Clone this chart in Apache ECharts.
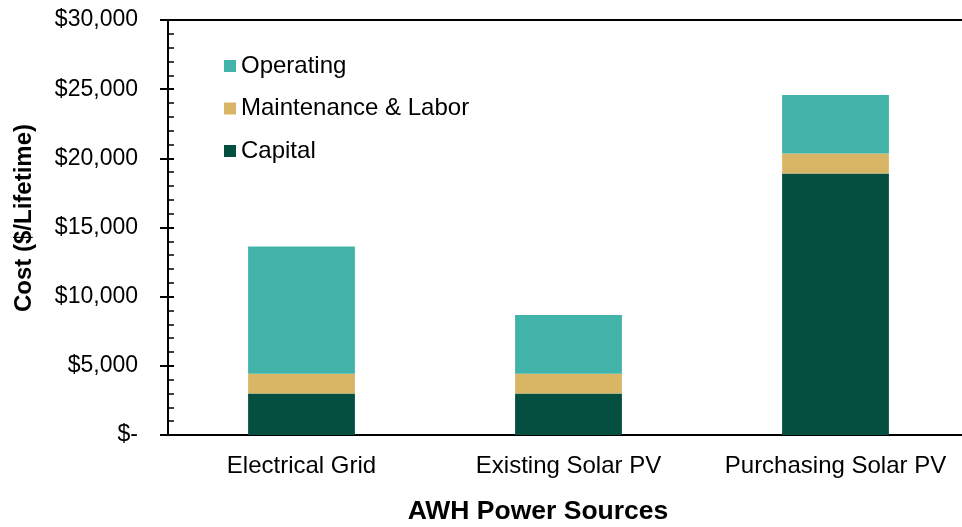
<!DOCTYPE html>
<html>
<head>
<meta charset="utf-8">
<script src="https://cdn.jsdelivr.net/npm/echarts@6/dist/echarts.min.js"></script>
<style>
  html, body { margin: 0; padding: 0; background: #fff; overflow: hidden; }
  /* the plot area runs a few pixels past the right edge of the window */
  #chart { width: 970px; height: 527px; }
</style>
</head>
<body>
<div id="chart"></div>
<script>
// Lifetime cost breakdown per power source
const categories = ['Electrical Grid', 'Existing Solar PV', 'Purchasing Solar PV'];
const capital = [3000, 3000, 18900];
const maintenance = [1420, 1420, 1450];
const operating = [9200, 4260, 4230];
const yTicks = [0, 5000, 10000, 15000, 20000, 25000, 30000];

const FONT = '"Liberation Sans", Arial, sans-serif';
const COLORS = { operating: '#42B3A9', maintenance: '#D9B666', capital: '#044F40' };

function money(v) {
  return v === 0 ? '$-' : '$' + v.toLocaleString('en-US');
}

const chart = echarts.init(document.getElementById('chart'), null, { renderer: 'canvas' });

const yMin = yTicks[0];
const yMax = yTicks[yTicks.length - 1];
const yStep = yTicks[1] - yTicks[0];

chart.setOption({
  animation: false,
  backgroundColor: '#fff',
  textStyle: { fontFamily: FONT },
  grid: { left: 168, top: 20, right: 1, bottom: 92, containLabel: false },
  legend: {
    orient: 'vertical',
    left: 224,
    top: 54,
    padding: 0,
    itemWidth: 12,
    itemHeight: 12,
    itemGap: 18.5,
    icon: 'rect',
    data: ['Operating', 'Maintenance & Labor', 'Capital'],
    textStyle: { fontFamily: FONT, fontSize: 24, color: '#000', lineHeight: 24 }
  },
  xAxis: [
    {
      type: 'category',
      data: categories,
      position: 'bottom',
      axisLine: { show: true, onZero: false, lineStyle: { color: '#000', width: 2 } },
      axisTick: { show: false },
      axisLabel: { color: '#000', fontSize: 24, fontFamily: FONT, margin: 19, interval: 0 }
    },
    {
      type: 'category',
      data: categories,
      position: 'top',
      axisLine: { show: true, onZero: false, lineStyle: { color: '#000', width: 2 } },
      axisTick: { show: false },
      axisLabel: { show: false }
    }
  ],
  yAxis: [
    {
      type: 'value',
      min: yMin,
      max: yMax,
      interval: yStep,
      position: 'left',
      axisLine: { show: true, lineStyle: { color: '#000', width: 2 } },
      axisTick: { show: true, inside: false, length: 8, lineStyle: { color: '#000', width: 2 } },
      splitLine: { show: false },
      axisLabel: { color: '#000', fontSize: 23, fontFamily: FONT, margin: 30, formatter: money }
    },
    {
      type: 'value',
      min: yMin,
      max: yMax,
      interval: yStep,
      position: 'left',
      axisLine: { show: true, lineStyle: { color: '#000', width: 2 } },
      axisTick: { show: true, inside: true, length: 6, lineStyle: { color: '#000', width: 2 } },
      minorTick: { show: true, splitNumber: 5, length: 6, lineStyle: { color: '#000', width: 1.5 } },
      splitLine: { show: false },
      axisLabel: { show: false }
    }
  ],
  series: [
    {
      name: 'Capital', type: 'bar', stack: 'cost', barWidth: '40%',
      itemStyle: { color: COLORS.capital }, data: capital
    },
    {
      name: 'Maintenance & Labor', type: 'bar', stack: 'cost', barWidth: '40%',
      itemStyle: { color: COLORS.maintenance }, data: maintenance
    },
    {
      name: 'Operating', type: 'bar', stack: 'cost', barWidth: '40%',
      itemStyle: { color: COLORS.operating }, data: operating
    }
  ],
  graphic: [
    {
      type: 'text',
      x: 24, y: 218,
      rotation: Math.PI / 2,
      style: {
        text: 'Cost ($/Lifetime)',
        font: 'bold 24px ' + FONT,
        fill: '#000',
        align: 'center',
        verticalAlign: 'middle'
      }
    },
    {
      type: 'text',
      x: 538, y: 512,
      style: {
        text: 'AWH Power Sources',
        font: 'bold 26.5px ' + FONT,
        fill: '#000',
        align: 'center',
        verticalAlign: 'middle'
      }
    }
  ]
});
</script>
</body>
</html>
